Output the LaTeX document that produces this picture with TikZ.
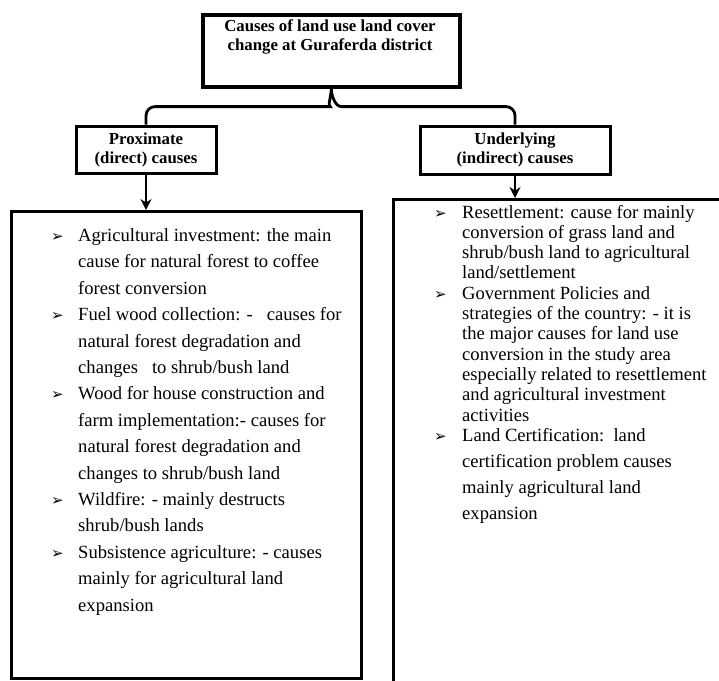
\documentclass[tikz,border=0pt]{standalone}
\usepackage{fontspec}
\setmainfont{Liberation Serif}
\newfontfamily\symfont{DejaVu Sans}
\usetikzlibrary{arrows.meta}
\tikzstyle{box} = [draw, line width=3pt, inner sep=0pt]
\tikzstyle{head} = [font=\bfseries\fontsize{16.8}{19}\selectfont, align=center]
\tikzstyle{arrow} = [-{Stealth[length=11pt, width=11pt]}, line width=2.8pt]
\tikzstyle{item} = [anchor=base west, align=left, inner sep=0pt]
\tikzstyle{bullet} = [anchor=base west, inner sep=0pt, font=\symfont\fontsize{15}{15}\selectfont]

\begin{document}
\begin{tikzpicture}[x=1pt, y=-1pt]
    \useasboundingbox (0,0) rectangle (719,680);
    \clip (0,0) rectangle (719,680);
    % boxes
    \node[box, line width=3.6pt, anchor=north west, minimum width=257pt, minimum height=72pt] (cause) at (201,13) {};
    \node[head, anchor=base] (causetxt) at (330,50)
        {Causes of land use land cover\\change at Guraferda district};
    \node[box, head, minimum width=140pt, minimum height=47pt] (prox) at (146,149.5)
        {Proximate\\(direct) causes};
    \node[box, head, minimum width=190pt, minimum height=48pt] (und) at (515,150)
        {Underlying\\(indirect) causes};
    \node[box, anchor=north west, minimum width=350pt, minimum height=467pt] (pbox) at (10,210) {};
    \node[box, anchor=north west, minimum width=400pt, minimum height=520pt] (ubox) at (392,198) {};
    % brace and arrows
    \draw[line width=2.8pt] (prox.north) [rounded corners=9pt]
        |- ([xshift=-10pt, yshift=-18pt]cause.south) [sharp corners]
        .. controls +(6,0) and +(0,7) .. (cause.south)
        .. controls +(0,7) and +(-6,0) .. ([xshift=10pt, yshift=-18pt]cause.south)
        [rounded corners=9pt] -| (und.north);
    \draw[arrow] (prox.south) -- (prox.south |- pbox.north);
    \draw[arrow] (und.south) -- (und.south |- ubox.north);
    % proximate causes (placed by the baseline of their last line)
    \begin{scope}[font=\fontsize{18.6}{26.4}\selectfont]
        \node[item] (p1) at (78,294.3) {Agricultural investment: the main\\cause for natural forest to coffee\\forest conversion};
        \node[item] (p2) at (78,373.5) {Fuel wood collection: -\ \ \ causes for\\natural forest degradation and\\changes\ \ \ to shrub/bush land};
        \node[item] (p3) at (78,479.1) {Wood for house construction and\\farm implementation:- causes for\\natural forest degradation and\\changes to shrub/bush land};
        \node[item] (p4) at (78,531.9) {Wildfire: - mainly destructs\\shrub/bush lands};
        \node[item] (p5) at (78,611.1) {Subsistence agriculture: - causes\\mainly for agricultural land\\expansion};
    \end{scope}
    \foreach \y [count=\i] in {241.5, 320.7, 399.9, 505.5, 558.3}
        \node[bullet] (pm\i) at (51,\y) {➢};
    % underlying causes
    \begin{scope}[font=\fontsize{18.6}{20.3}\selectfont]
        \node[item] (u1) at (462,278.9) {Resettlement: cause for mainly\\conversion of grass land and\\shrub/bush land to agricultural\\land/settlement};
        \node[item] (u2) at (462,421) {Government Policies and\\strategies of the country: - it is\\the major causes for land use\\conversion in the study area\\especially related to resettlement\\and agricultural investment\\activities};
        \node[item, font=\fontsize{18.6}{26.3}\selectfont] (u3) at (462,519.9) {Land Certification:\ \ land\\certification problem causes\\mainly agricultural land\\expansion};
    \end{scope}
    \foreach \y [count=\i] in {218, 299.2, 441}
        \node[bullet] (um\i) at (434,\y) {➢};
\end{tikzpicture}
\end{document}
